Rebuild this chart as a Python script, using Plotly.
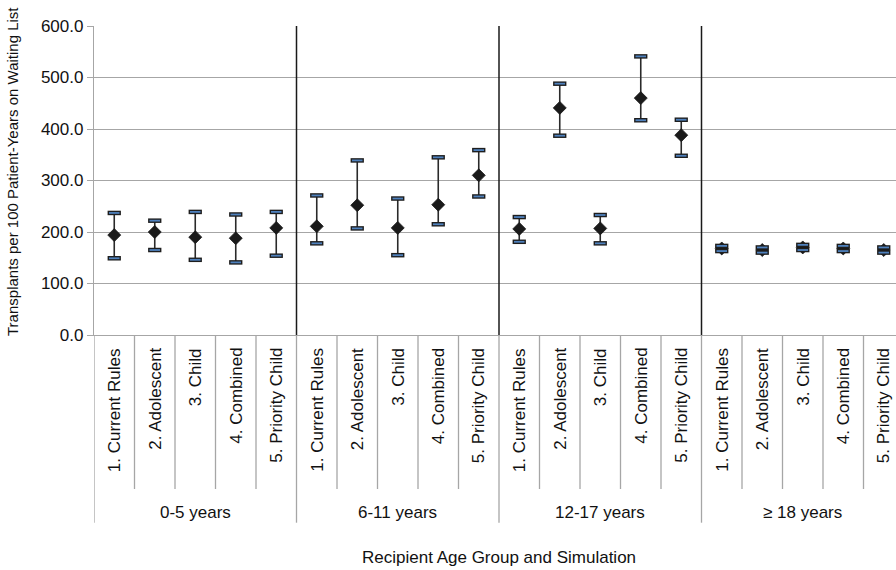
import plotly.graph_objects as go

# ---- data ----
groups = ["0-5 years", "6-11 years", "12-17 years", "≥ 18 years"]
simulations = ["1. Current Rules", "2. Adolescent", "3. Child", "4. Combined", "5. Priority Child"]

rate_0_5 = [194, 200, 190, 188, 208]
upper_0_5 = [237, 222, 239, 234, 239]
lower_0_5 = [149, 165, 146, 141, 154]

rate_6_11 = [211, 252, 208, 253, 310]
upper_6_11 = [271, 339, 265, 345, 359]
lower_6_11 = [178, 207, 155, 215, 269]

rate_12_17 = [206, 441, 207, 460, 388]
upper_12_17 = [229, 488, 233, 541, 418]
lower_12_17 = [181, 387, 178, 417, 348]

rate_18 = [168, 165, 170, 168, 165]
upper_18 = [173, 170, 175, 173, 170]
lower_18 = [163, 160, 165, 163, 160]

y_ticks = [0, 100, 200, 300, 400, 500, 600]

# ---- assemble ----
rates = rate_0_5 + rate_6_11 + rate_12_17 + rate_18
uppers = upper_0_5 + upper_6_11 + upper_12_17 + upper_18
lowers = lower_0_5 + lower_6_11 + lower_12_17 + lower_18
n_sim = len(simulations)
x = list(range(len(rates)))

FONT = "Liberation Sans, Arial, sans-serif"
W, H = 896, 570
ML, MT = 94, 26
PLOT_BOTTOM = 335
MB = H - PLOT_BOTTOM
plot_h = PLOT_BOTTOM - MT
plot_w = W - ML
cat_px = 40.5


def py(px):
    """screen pixel row -> paper y"""
    return (PLOT_BOTTOM - px) / plot_h


def pxx(px):
    """screen pixel column -> paper x"""
    return (px - ML) / plot_w


fig = go.Figure()

fig.add_trace(go.Scatter(
    x=x, y=rates, mode="markers",
    marker=dict(symbol="diamond", size=10, color="#1a1a1a",
                line=dict(width=0.8, color="#1a1a1a")),
    error_y=dict(type="data", symmetric=False,
                 array=[u - r for u, r in zip(uppers, rates)],
                 arrayminus=[r - l for r, l in zip(rates, lowers)],
                 width=0, thickness=1.6, color="#2a2a2a"),
    showlegend=False, hoverinfo="skip"))

caps_y = uppers + lowers
caps_x = x + x
fig.add_trace(go.Scatter(
    x=caps_x, y=caps_y, mode="markers",
    marker=dict(symbol="line-ew", size=9.5, line=dict(width=4.5, color="#1e1e1e")),
    showlegend=False, hoverinfo="skip"))
fig.add_trace(go.Scatter(
    x=caps_x, y=caps_y, mode="markers",
    marker=dict(symbol="line-ew", size=7.5, line=dict(width=1.8, color="#4f81bd")),
    showlegend=False, hoverinfo="skip"))

shapes = []
annotations = []
n_cat = len(rates)
for i in range(n_cat):
    b = i - 0.5
    is_group = (i % n_sim == 0)
    if is_group and i > 0:
        shapes.append(dict(type="line", xref="x", yref="y", x0=b, x1=b,
                           y0=y_ticks[0], y1=y_ticks[-1],
                           line=dict(color="#1a1a1a", width=1.5)))
    shapes.append(dict(type="line", xref="x", yref="paper", x0=b, x1=b,
                       y0=0, y1=py(522.7) if is_group else py(489),
                       line=dict(color="#a6a6a6", width=1.3)))
    annotations.append(dict(xref="x", yref="paper", x=i, y=py(346),
                            text=simulations[i % n_sim], textangle=-90,
                            showarrow=False, xanchor="center", yanchor="top",
                            font=dict(family=FONT, size=17, color="#111")))

for g, name in enumerate(groups):
    annotations.append(dict(xref="x", yref="paper", x=g * n_sim + (n_sim - 1) / 2,
                            y=py(512), text=name, showarrow=False,
                            xanchor="center", yanchor="middle",
                            font=dict(family=FONT, size=17, color="#111")))

annotations.append(dict(xref="paper", yref="paper", x=(n_cat * cat_px / 2) / plot_w,
                        y=py(557), text="Recipient Age Group and Simulation",
                        showarrow=False, xanchor="center", yanchor="middle",
                        font=dict(family=FONT, size=17, color="#111")))
annotations.append(dict(xref="paper", yref="paper", x=pxx(12), y=py(172),
                        text="Transplants per 100 Patient-Years on Waiting List",
                        textangle=-90, showarrow=False, xanchor="center", yanchor="middle",
                        font=dict(family=FONT, size=15, color="#111")))

fig.update_layout(
    width=W, height=H, autosize=False,
    margin=dict(l=ML, r=0, t=MT, b=MB, pad=0),
    paper_bgcolor="white", plot_bgcolor="white",
    font=dict(family=FONT, size=17, color="#111"),
    shapes=shapes, annotations=annotations,
    xaxis=dict(range=[-0.5, -0.5 + plot_w / cat_px], showgrid=False, zeroline=False,
               showline=True, linecolor="#a6a6a6", linewidth=1.3,
               showticklabels=False, ticks=""),
    yaxis=dict(range=[y_ticks[0], y_ticks[-1]], tickvals=y_ticks, tickformat=".1f",
               showgrid=True, gridcolor="#a6a6a6", gridwidth=1.3, zeroline=False,
               showline=True, linecolor="#a6a6a6", linewidth=1.3,
               ticks="outside", ticklen=6, tickcolor="#a6a6a6", tickwidth=1.3,
               tickfont=dict(family=FONT, size=17, color="#111")),
)

fig.write_html(
    "out.html",
    config={"displayModeBar": False},
    post_script="document.body.style.margin='0';document.body.style.overflow='hidden';",
)
